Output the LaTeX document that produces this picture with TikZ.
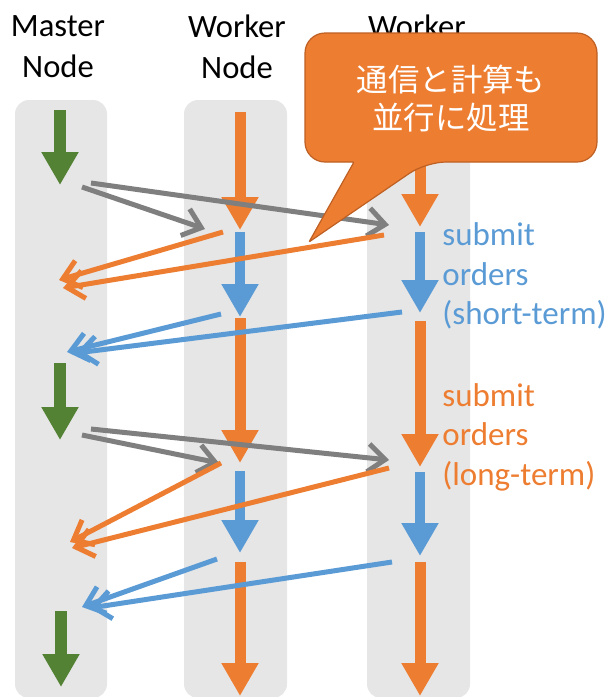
\documentclass[tikz,border=0pt]{standalone}
\usepackage{fontspec}
\setmainfont{Carlito}
\newfontfamily\jpfont{Noto Sans CJK JP}
\usetikzlibrary{arrows.meta}
\definecolor{lane}{RGB}{230,230,230}
\definecolor{accOrange}{RGB}{237,125,49}
\definecolor{accBlue}{RGB}{91,155,213}
\definecolor{accGreen}{RGB}{84,130,53}
\definecolor{accGray}{RGB}{127,127,127}
\definecolor{calloutEdge}{RGB}{190,95,35}
\begin{document}
\begin{tikzpicture}[x=0.5pt,y=-0.5pt,
  lanebox/.style={fill=lane, rounded corners=7pt},
  flow/.style={line width=#1, -{Triangle[length=16.5pt,width=17.5pt]}},
  greenflow/.style={flow=6pt, draw=accGreen},
  calcflow/.style={flow=5.5pt, draw=accOrange},
  sendflow/.style={flow=5pt, draw=accBlue},
  msg/.style={line width=2.5pt, -{Straight Barb[length=8.5pt,width=14pt]}},
  head/.style={font=\fontsize{16.3}{20.5}\selectfont, align=center},
  tag/.style={font=\fontsize{16.5}{19.75}\selectfont, align=left, anchor=west, inner sep=0pt}
]
\useasboundingbox (0,0) rectangle (613,697);

% lanes
\fill[lanebox] (15,100) rectangle (107,698);
\fill[lanebox] (184,100) rectangle (287,698);
\fill[lanebox] (367,100) rectangle (470,698);

% headers
\node[head] (hm) at (58,47) {Master\\Node};
\node[head] (hw1) at (237,47) {Worker\\Node};
\node[head, anchor=base] (hw2) at (417,37) {Worker};

% master steps
\draw[greenflow] (60,110) -- (60,185);
\draw[greenflow] (60,363) -- (60,440);
\draw[greenflow] (61,611) -- (61,687);

% worker 1 steps
\draw[calcflow] (240,112) -- (240,230);
\draw[sendflow] (240,232) -- (240,317);
\draw[calcflow] (240,318) -- (240,463);
\draw[sendflow] (240,471) -- (240,553);
\draw[calcflow] (240,562) -- (240,696);

% worker 2 steps
\draw[calcflow] (420,112) -- (420,227);
\draw[sendflow] (420,232) -- (420,313);
\draw[calcflow] (420,321) -- (420,467);
\draw[sendflow] (420,472) -- (420,556);
\draw[calcflow] (420,562) -- (420,696);

% message end points
\coordinate (ga1) at (82,187);  \coordinate (gb1) at (205,229);
\coordinate (ga2) at (91,183);  \coordinate (gb2) at (389,225);
\coordinate (ga3) at (82,435);  \coordinate (gb3) at (219,463);
\coordinate (ga4) at (91,429);  \coordinate (gb4) at (389,460);
\coordinate (oa1) at (223,232); \coordinate (ob1) at (59,280);
\coordinate (oa2) at (384,235); \coordinate (ob2) at (63,288);
\coordinate (oa3) at (221,463); \coordinate (ob3) at (70,542);
\coordinate (oa4) at (389,468); \coordinate (ob4) at (72,548);
\coordinate (ba1) at (221,314); \coordinate (bb1) at (67,352);
\coordinate (ba2) at (402,312); \coordinate (bb2) at (76,353);
\coordinate (ba3) at (217,559); \coordinate (bb3) at (82,607);
\coordinate (ba4) at (392,562); \coordinate (bb4) at (90,608);

% messages
\draw[msg, accGray] (ga1) -- (gb1);
\draw[msg, accGray] (ga2) -- (gb2);
\draw[msg, accGray] (ga3) -- (gb3);
\draw[msg, accGray] (ga4) -- (gb4);
\draw[msg, accOrange] (oa1) -- (ob1);
\draw[msg, accOrange] (oa2) -- (ob2);
\draw[msg, accOrange] (oa3) -- (ob3);
\draw[msg, accOrange] (oa4) -- (ob4);
\draw[msg, accBlue] (ba1) -- (bb1);
\draw[msg, accBlue] (ba2) -- (bb2);
\draw[msg, accBlue] (ba3) -- (bb3);
\draw[msg, accBlue] (ba4) -- (bb4);

% side labels
\node[tag, text=accBlue] (lshort) at (442,276) {submit\\orders\\(short-term)};
\node[tag, text=accOrange] (llong) at (442,437) {submit\\orders\\(long-term)};

% callout
\draw[fill=accOrange, draw=calloutEdge, line width=0.6pt, rounded corners=10pt]
  (451,33) -- (597,33) -- (597,162) -- (426,162) [rounded corners=0.5pt] -- (309,242) -- (354,162)
  [rounded corners=10pt] -- (305,162) -- (305,33) -- cycle;
\node[text=white, font=\jpfont\fontsize{15.7}{19}\selectfont, align=center] (note) at (451,99) {通信と計算も\\並行に処理};
\end{tikzpicture}
\end{document}
